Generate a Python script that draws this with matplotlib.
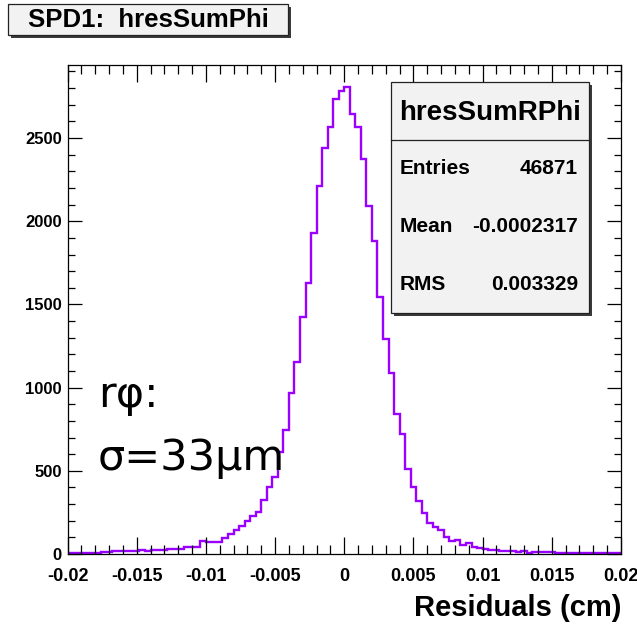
import numpy as np
import matplotlib
matplotlib.use("Agg")
import matplotlib.pyplot as plt
from matplotlib.patches import Rectangle
from matplotlib.ticker import MultipleLocator

# histogram of residuals, 100 bins from -0.02 to 0.02 cm
x_min, x_max, n_bins = -0.02, 0.02, 100
counts = [
    6, 6, 6, 6, 6, 6, 10, 10, 16, 16,
    16, 16, 16, 22, 16, 24, 24, 24, 32, 32,
    32, 44, 44, 44, 80, 74, 74, 75, 98, 122,
    142, 169, 196, 226, 254, 327, 402, 465, 615, 745,
    966, 1156, 1426, 1630, 1927, 2212, 2440, 2568, 2736, 2784,
    2805, 2644, 2564, 2372, 2091, 1883, 1543, 1290, 1090, 841,
    721, 513, 404, 320, 245, 184, 160, 144, 100, 78,
    84, 56, 64, 44, 36, 28, 24, 24, 16, 16,
    16, 12, 16, 4, 12, 12, 12, 12, 5, 5,
    5, 5, 5, 5, 5, 5, 5, 5, 5, 5,
]
title = "SPD1:  hresSumPhi"
hist_name = "hresSumRPhi"
stat_names = ["Entries", "Mean", "RMS"]
stat_values = ["46871", "-0.0002317", "0.003329"]
xtick_vals = [-0.02, -0.015, -0.01, -0.005, 0, 0.005, 0.01, 0.015, 0.02]
xtick_text = ["-0.02", "-0.015", "-0.01", "-0.005", "0", "0.005", "0.01", "0.015", "0.02"]
ytick_vals = [0, 500, 1000, 1500, 2000, 2500]

W, H = 637, 629
plt.rcParams['font.family'] = ['Liberation Sans', 'DejaVu Sans']

def fx(px):
    return px / W

def fy(py):
    return 1 - py / H

fig = plt.figure(figsize=(W / 100, H / 100), dpi=100)
ax = fig.add_axes([fx(67.5), fy(554), fx(621) - fx(67.5), fy(65) - fy(554)])

edges = np.linspace(x_min, x_max, n_bins + 1)
ax.stairs(counts, edges, color='#9900ff', lw=1.7)

ax.set_xlim(x_min, x_max)
ax.set_ylim(0, 2939)
ax.set_xticks(xtick_vals)
ax.set_xticklabels(xtick_text)
ax.set_yticks(ytick_vals)
ax.xaxis.set_minor_locator(MultipleLocator(0.001))
ax.yaxis.set_minor_locator(MultipleLocator(100))
ax.tick_params(axis='both', which='both', direction='in', top=True, right=True, width=0.9)
ax.tick_params(axis='x', which='major', length=12, pad=10, labelsize=13)
ax.tick_params(axis='x', which='minor', length=6.5)
ax.tick_params(axis='y', which='major', length=10, pad=4, labelsize=12)
ax.tick_params(axis='y', which='minor', length=5)
for lab in ax.get_xticklabels() + ax.get_yticklabels():
    lab.set_fontweight('bold')
for s in ax.spines.values():
    s.set_linewidth(0.9)

fig.text(fx(621), fy(608), "Residuals (cm)", ha='right', va='center',
         fontsize=21, fontweight='bold')

# annotation inside the plot (wider font, like ROOT's symbol glyphs)
fig.text(fx(98), fy(407), "r\u03c6:", ha='left', va='baseline', fontsize=31,
         family=['DejaVu Sans'])
fig.text(fx(98), fy(470), "\u03c3=33\u03bcm", ha='left', va='baseline', fontsize=31,
         family=['DejaVu Sans'])

def pave(x0, y0, x1, y1):
    # shadow then box, ROOT style
    fig.patches.append(Rectangle((fx(x0 + 3), fy(y1 + 3)), fx(x1) - fx(x0), fy(y0) - fy(y1),
                                 transform=fig.transFigure, facecolor='#3a3a3a',
                                 edgecolor='none', zorder=5))
    fig.patches.append(Rectangle((fx(x0), fy(y1)), fx(x1) - fx(x0), fy(y0) - fy(y1),
                                 transform=fig.transFigure, facecolor='#f2f2f2',
                                 edgecolor='#222222', lw=0.9, zorder=6))

# title box
pave(8, 4, 288, 35)
fig.text(fx(148), fy(20), title, ha='center', va='center', fontsize=18.5,
         fontweight='bold', zorder=7)

# stats box
pave(391, 82, 589, 313)
fig.add_artist(plt.Line2D([fx(391), fx(589)], [fy(139.5), fy(139.5)],
                          transform=fig.transFigure, color='#222222', lw=0.9, zorder=7))
fig.text(fx(490), fy(113), hist_name, ha='center', va='center', fontsize=20,
         fontweight='bold', zorder=7)
for k, (name, val) in enumerate(zip(stat_names, stat_values)):
    yy = [169, 227, 285][k]
    fig.text(fx(400), fy(yy), name, ha='left', va='center', fontsize=15,
             fontweight='bold', zorder=7)
    fig.text(fx(578), fy(yy), val, ha='right', va='center', fontsize=15,
             fontweight='bold', zorder=7)

fig.savefig("out.png", dpi=100)
